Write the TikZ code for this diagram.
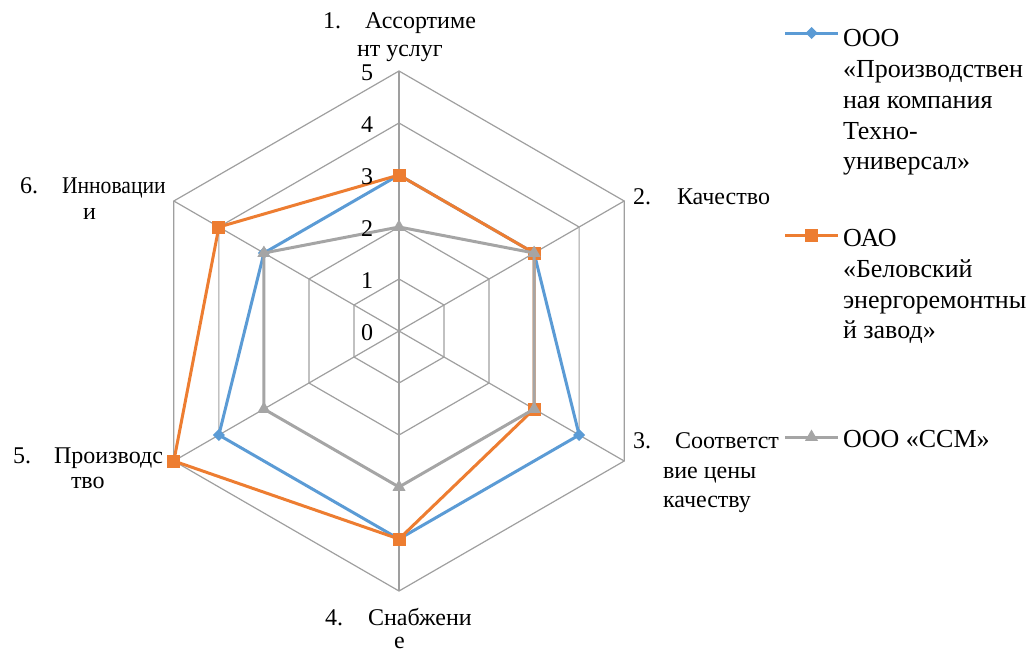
\documentclass[tikz,border=0pt]{standalone}
\usepackage{fontspec}
\setmainfont{Liberation Serif}
\usetikzlibrary{shapes.geometric}
\definecolor{sblue}{HTML}{5B9BD5}
\definecolor{sorange}{HTML}{ED7D31}
\definecolor{sgrey}{HTML}{A5A5A5}
\definecolor{gridc}{HTML}{9F9F9F}
\begin{document}
\begin{tikzpicture}[x=1pt,y=-1pt,
  every node/.style={font=\rmfamily\fontsize{24}{28}\selectfont, inner sep=0pt, outer sep=0pt},
  txt/.style={anchor=base west},
  legtxt/.style={anchor=base west, font=\rmfamily\fontsize{26}{30}\selectfont},
  num/.style={anchor=base east},
  gridline/.style={draw=gridc, line width=1.2pt},
  bline/.style={draw=sblue, line width=3pt, line join=round},
  oline/.style={draw=sorange, line width=3pt, line join=round},
  gline/.style={draw=sgrey, line width=3pt, line join=round},
  bmark/.style={diamond, fill=sblue, minimum size=12pt},
  omark/.style={rectangle, fill=sorange, minimum size=13pt},
  gmark/.style={regular polygon, regular polygon sides=3, fill=sgrey, minimum size=15pt},
]
\useasboundingbox (0,0) rectangle (1032,654);
\begin{scope}[shift={(399,331)}, yscale=-1]
  \coordinate (C) at (0,0);
  \foreach \r in {52,104,156,208,260} {
    \draw[gridline] (90:\r) -- (30:\r) -- (-30:\r) -- (-90:\r) -- (-150:\r) -- (150:\r) -- cycle;
  }
  \foreach \a [count=\i] in {90,30,-30,-90,-150,150} {
    \coordinate (s\i) at (\a:260);
    \draw[gridline] (C) -- (s\i);
  }
  % blue
  \coordinate (b1) at (90:156); \coordinate (b2) at (30:156); \coordinate (b3) at (-30:208);
  \coordinate (b4) at (-90:208); \coordinate (b5) at (-150:208); \coordinate (b6) at (150:156);
  % orange
  \coordinate (o1) at (90:156); \coordinate (o2) at (30:156); \coordinate (o3) at (-30:156);
  \coordinate (o4) at (-90:208); \coordinate (o5) at (-150:260); \coordinate (o6) at (150:208);
  % grey
  \coordinate (g1) at (90:104); \coordinate (g2) at (30:156); \coordinate (g3) at (-30:156);
  \coordinate (g4) at (-90:156); \coordinate (g5) at (-150:156); \coordinate (g6) at (150:156);
\end{scope}
\draw[bline] (b1) -- (b2) -- (b3) -- (b4) -- (b5) -- (b6) -- cycle;
\foreach \i in {1,...,6} { \node[bmark] (mb\i) at (b\i) {}; }
\draw[oline] (o1) -- (o2) -- (o3) -- (o4) -- (o5) -- (o6) -- cycle;
\foreach \i in {1,...,6} { \node[omark] (mo\i) at (o\i) {}; }
\draw[gline] (g1) -- (g2) -- (g3) -- (g4) -- (g5) -- (g6) -- cycle;
\foreach \i in {1,...,6} { \node[gmark] (mg\i) at (g\i) {}; }
% axis numbers
\node[num] (n5) at (373,80) {5};
\node[num] (n4) at (373,132) {4};
\node[num] (n3) at (373,184) {3};
\node[num] (n2) at (373,236) {2};
\node[num] (n1) at (373,288) {1};
\node[num] (n0) at (373,340) {0};
% category labels
\node[txt] (l1a) at (323,28) {1.};
\node[txt] (l1b) at (365,28) {Ассортиме};
\node[txt] (l1c) at (357,56) {нт услуг};
\node[txt] (l2a) at (633,204) {2.};
\node[txt] (l2b) at (677,204) {Качество};
\node[txt] (l3a) at (633,448) {3.};
\node[txt] (l3b) at (675,448) {Соответст};
\node[txt] (l3c) at (663,478) {вие цены};
\node[txt] (l3d) at (663,507) {качеству};
\node[txt] (l4a) at (325,625) {4.};
\node[txt] (l4b) at (368,625) {Снабжени};
\node[txt] (l4c) at (394,648) {е};
\node[txt] (l5a) at (13,463) {5.};
\node[txt] (l5b) at (54,463) {Производс};
\node[txt] (l5c) at (71,488) {тво};
\node[txt] (l6a) at (20,193) {6.};
\node[txt] (l6b) at (62,193) {\scalebox{0.9}[1]{Инновации}};
\node[txt] (l6c) at (83,219) {и};
% legend
\coordinate (lb1) at (785,33); \coordinate (lb2) at (838,33);
\draw[bline] (lb1) -- (lb2);
\node[bmark] (lbm) at (811.5,33) {};
\node[legtxt] (lbt1) at (843,46) {ООО};
\node[legtxt] (lbt2) at (843,77) {«Производствен};
\node[legtxt] (lbt3) at (843,108) {ная компания};
\node[legtxt] (lbt4) at (843,139) {Техно-};
\node[legtxt] (lbt5) at (843,169) {универсал»};
\coordinate (lo1) at (785,235); \coordinate (lo2) at (838,235);
\draw[oline] (lo1) -- (lo2);
\node[omark] (lom) at (811.5,235) {};
\node[legtxt] (lot1) at (843,246) {ОАО};
\node[legtxt] (lot2) at (843,277) {«Беловский};
\node[legtxt] (lot3) at (843,308) {энергоремонтны};
\node[legtxt] (lot4) at (843,338) {й завод»};
\coordinate (lg1) at (785,437); \coordinate (lg2) at (838,437);
\draw[gline] (lg1) -- (lg2);
\node[gmark] (lgm) at (811.5,437) {};
\node[legtxt] (lgt1) at (843,447) {ООО «ССМ»};
\end{tikzpicture}
\end{document}
